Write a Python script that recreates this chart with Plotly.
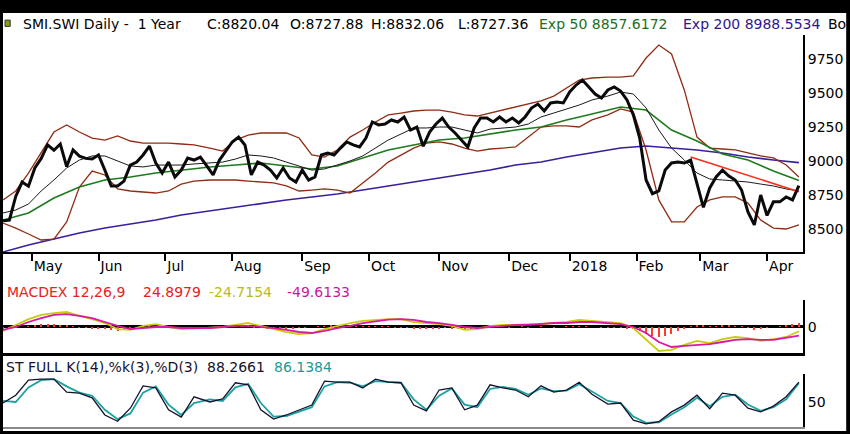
import numpy as np
import pandas as pd
import plotly.graph_objects as go

# SIX holidays inside the window (no trading)
holidays = ["2017-05-01", "2017-05-25", "2017-06-05", "2017-08-01", "2017-12-25",
            "2017-12-26", "2018-01-01", "2018-01-02", "2018-03-30", "2018-04-02"]
month_labels = ["May", "Jun", "Jul", "Aug", "Sep", "Oct", "Nov", "Dec", "2018", "Feb", "Mar", "Apr"]

# close, every 2nd session
close = [8560, 8565, 8740, 8846, 8815, 8950, 9020, 9120, 9080, 9126,
         8960, 9082, 9037, 9020, 9015, 9045, 8934, 8817, 8817, 8853,
         8970, 8993, 9045, 9111, 8986, 8912, 8993, 8883, 8934, 9023,
         9008, 9030, 8964, 8898, 9008, 9074, 9141, 9177, 9119, 8898,
         8993, 8971, 8934, 8876, 8949, 8876, 8846, 8934, 8861, 8883,
         9045, 9060, 9045, 9096, 9141, 9119, 9104, 9170, 9288, 9266,
         9273, 9303, 9288, 9325, 9229, 9251, 9110, 9214, 9273, 9317,
         9251, 9207, 9155, 9104, 9244, 9317, 9317, 9288, 9325, 9288,
         9317, 9281, 9325, 9391, 9420, 9370, 9428, 9435, 9428, 9509,
         9560, 9597, 9546, 9494, 9465, 9524, 9546, 9516, 9450, 9340,
         9170, 8861, 8760, 8780, 8934, 8986, 8993, 8986, 9008, 8824,
         8660, 8802, 8883, 8934, 8890, 8861, 8787, 8625, 8530, 8750,
         8600, 8700, 8700, 8736, 8714, 8820.04]

# bollinger / sma20, every 4th session
bb_upper = [8714, 8780, 8912, 9067, 9214, 9266, 9214, 9170, 9155, 9185,
            9148, 9133, 9133, 9133, 9126, 9119, 9096, 9074, 9155, 9192,
            9207, 9207, 9207, 9170, 9045, 9030, 9082, 9177, 9229, 9288,
            9340, 9354, 9369, 9376, 9376, 9361, 9340, 9332, 9354, 9376,
            9398, 9420, 9443, 9479, 9538, 9597, 9612, 9619, 9619, 9627,
            9759, 9855, 9789, 9524, 9177, 9096, 9089, 9082, 9060, 9038,
            9023, 8971, 8883]
bb_lower = [8544, 8507, 8463, 8419, 8426, 8552, 8809, 8927, 8898, 8795,
            8780, 8772, 8765, 8780, 8831, 8853, 8861, 8861, 8861, 8853,
            8846, 8839, 8817, 8780, 8787, 8795, 8787, 8765, 8839, 8912,
            8993, 9045, 9096, 9133, 9141, 9126, 9096, 9074, 9089, 9096,
            9104, 9177, 9251, 9259, 9259, 9251, 9303, 9340, 9384, 9361,
            9082, 8714, 8552, 8552, 8662, 8714, 8736, 8736, 8691, 8566,
            8507, 8500, 8530]
sma20 = [8618, 8640, 8684, 8780, 8861, 8949, 9008, 9038, 9038, 9001,
         8964, 8957, 8971, 8971, 8971, 8979, 8986, 8993, 9015, 9045,
         9038, 9023, 8993, 8964, 8934, 8942, 8971, 9001, 9038, 9096,
         9155, 9199, 9244, 9244, 9251, 9251, 9229, 9207, 9236, 9244,
         9251, 9273, 9325, 9354, 9384, 9413, 9450, 9479, 9509, 9494,
         9391, 9229, 9096, 9008, 8912, 8868, 8861, 8853, 8846, 8831,
         8817, 8795, 8780]

# exponential averages, every 8th session
exp50 = [8566, 8618, 8728, 8809, 8861, 8883, 8912, 8934, 8957, 8971, 8986, 8964, 8942, 8964, 9023, 9082,
         9119, 9155, 9170, 9199, 9229, 9251, 9303, 9347, 9398, 9376, 9229, 9148, 9052, 9008, 8927, 8857.6172]
exp200 = [8331, 8382, 8426, 8471, 8507, 8537, 8566, 8603, 8633, 8662, 8684, 8714, 8736, 8758, 8787, 8817,
          8846, 8876, 8905, 8934, 8971, 8993, 9030, 9060, 9096, 9111, 9096, 9082, 9060, 9030, 9008, 8988.5534]

levels = [9089, 8817, 8672, 8524]
trend_dates = ["2018-02-26", "2018-04-17"]
trend_vals = [9030, 8775]

macd = [-23, 12, 46, 70, 81, 87, 64, 46, 23, -12, -17, 6, 17, 0, -12, -9, -6, 0, 12, 23,
        6, -12, -29, -41, -35, -12, 6, 23, 35, 41, 46, 46, 29, 23, 17, 6, -17, -12, 6, 12,
        12, 17, 17, 23, 29, 41, 35, 29, 23, -6, -75, -139, -133, -104, -81, -93, -70, -58, -64, -81,
        -70, -58, -24.7154]
signal = [-17, 0, 29, 52, 70, 75, 64, 52, 29, 6, -12, -6, 0, 0, -6, -6, -6, 0, 6, 6,
          0, -6, -17, -29, -35, -23, -6, 6, 23, 35, 43, 46, 41, 29, 23, 12, 0, -6, 0, 6,
          12, 12, 17, 23, 23, 29, 29, 23, 17, 0, -35, -87, -116, -110, -104, -99, -87, -75, -70, -75,
          -75, -64, -49.6133]
hist = [-10, -8, -5, 0, 5, 10, 15, 20, 18, 12, 6, 2, -2, -5, -6, -8, -12, -18, -22, -20,
        -12, -4, 4, 6, 4, 0, -3, -5, -4, -3, -2, -2, -3, -2, 0, 3, 5, 6, 3, -2,
        -5, -6, -7, -8, -8, -7, -5, -3, 0, 3, 5, 6, 5, 4, 3, 2, 3, 4, 3, 2,
        1, -1, -3, -5, -8, -10, -12, -10, -7, -5, -8, -12, -15, -10, -4, 0, 2, 2, 0, -1,
        0, 1, -1, 0, 2, 0, -2, 0, 2, 4, 5, 3, 0, -2, -3, -2, -3, -6, -12, -25,
        -40, -52, -60, -55, -40, -22, -8, 5, 12, 8, 2, 5, 8, 6, 4, 2, -5, -15, -12, -5,
        0, 5, 12, 18, 24.8979]

stoch_k = [48, 63, 92, 94, 94, 69, 67, 58, 25, 13, 38, 81, 77, 35, 21, 60, 50, 56, 87, 83,
           35, 17, 25, 35, 44, 90, 88, 88, 77, 94, 88, 87, 44, 33, 73, 77, 35, 44, 83, 77,
           73, 60, 81, 69, 73, 88, 65, 46, 48, 15, 8, 12, 31, 44, 63, 37, 67, 63, 38, 31,
           42, 60, 88.2661]
stoch_d = [52, 50, 78, 92, 94, 80, 68, 62, 35, 17, 28, 68, 80, 45, 25, 48, 55, 52, 78, 85,
           48, 22, 23, 32, 40, 80, 88, 87, 80, 90, 89, 87, 55, 35, 62, 76, 45, 40, 75, 79,
           75, 64, 76, 71, 72, 84, 70, 52, 48, 22, 10, 11, 26, 40, 58, 42, 60, 64, 45, 33,
           40, 55, 86.1384]

days = pd.bdate_range("2017-04-18", "2018-04-17")
days = days[~days.isin(pd.to_datetime(holidays))]


def pick(n):
    return days[np.linspace(0, len(days) - 1, n).round().astype(int)]


firsts = pd.Series(days, index=days).groupby([days.year, days.month]).first().values[1:]

FONT = "DejaVu Sans"
fig = go.Figure()


def line(x, y, color, width, ax="1"):
    fig.add_trace(go.Scatter(x=x, y=y, mode="lines", line=dict(color=color, width=width),
                             xaxis="x" if ax == "1" else "x" + ax, yaxis="y" if ax == "1" else "y" + ax))


# main panel
line(pick(len(exp200)), exp200, "#3a1ea0", 1.6)
line(pick(len(bb_upper)), bb_upper, "#902c14", 1.3)
line(pick(len(bb_lower)), bb_lower, "#902c14", 1.3)
line(pick(len(exp50)), exp50, "#1d7a1d", 1.6)
line(pick(len(sma20)), sma20, "#1a1a1a", 1)
line(trend_dates, trend_vals, "#ff2a1a", 1.6)
line(pick(len(close)), close, "#0a0a0a", 3)

# macd panel
fig.add_trace(go.Bar(x=pick(len(hist)), y=hist, width=0.35 * 86400000,
                     marker=dict(color="#ff3b2a", line=dict(width=0)), xaxis="x2", yaxis="y2"))
line(pick(len(macd)), macd, "#c8cc10", 1.8, "2")
line(pick(len(signal)), signal, "#d81aa0", 1.8, "2")

# stochastic panel
line(pick(len(stoch_d)), stoch_d, "#1aa3a0", 1.8, "3")
line(pick(len(stoch_k)), stoch_k, "#15122e", 1.3, "3")

for i, lv in enumerate(levels):
    fig.add_shape(type="line", xref="x domain", yref="y", x0=0, x1=1, y0=lv, y1=lv, layer="below",
                  line=dict(color="#163a35" if i == 0 else "#1a1a1a", width=2.2 if i == 0 else 1.2))

xr = [days[0], days[-1] + pd.Timedelta(hours=31)]
rb = [dict(bounds=["sat", "mon"]), dict(values=holidays)]
common_y = dict(side="right", showgrid=False, showline=True, linecolor="black", linewidth=2,
                ticks="", tickfont=dict(family=FONT, size=14, color="black"), fixedrange=True)

fig.update_layout(
    width=850, height=434, showlegend=False, bargap=0,
    paper_bgcolor="black", plot_bgcolor="white",
    margin=dict(l=3, r=47, t=35, b=7),
    font=dict(family=FONT, size=14, color="black"),
    xaxis=dict(domain=[0, 1], anchor="y", range=xr, rangebreaks=rb, showgrid=False,
               showline=True, linecolor="black", linewidth=2, ticks="outside", ticklen=7,
               tickwidth=2, tickcolor="black", tickvals=firsts, ticktext=month_labels,
               ticklabelposition="outside right",
               tickfont=dict(family=FONT, size=14, color="black")),
    xaxis2=dict(domain=[0, 1], anchor="y2", matches="x", range=xr, rangebreaks=rb, showgrid=False,
                showline=True, linecolor="black", linewidth=3, showticklabels=False, ticks=""),
    xaxis3=dict(domain=[0, 1], anchor="y3", matches="x", range=xr, rangebreaks=rb, showgrid=False,
                showline=True, linecolor="#8a8a8a", linewidth=2, showticklabels=False, ticks=""),
    yaxis=dict(domain=[0.4464, 1], anchor="x", range=[8330.6, 9928.6],
               tickvals=[8500, 8750, 9000, 9250, 9500, 9750], zeroline=False, **common_y),
    yaxis2=dict(domain=[0.1888, 0.3240], anchor="x2", range=[-150.8, 156.6], tickvals=[0],
                zeroline=True, zerolinecolor="black", zerolinewidth=2.5, **common_y),
    yaxis3=dict(domain=[0, 0.1352], anchor="x3", range=[1.9, 103.8], tickvals=[50],
                zeroline=False, **common_y),
)

# white page inside the black frame
fig.add_shape(type="rect", xref="paper", yref="paper", x0=0, x1=1.054, y0=-0.0102, y1=1.0561,
              fillcolor="white", line=dict(width=0), layer="below")
fig.add_shape(type="rect", xref="paper", yref="paper", x0=0.0025, x1=0.009, y0=1.022, y1=1.038,
              fillcolor="#8c9a12", line=dict(color="#333", width=1))


def label(px, y, text, color):
    # px: left edge of the text in page pixels
    fig.add_annotation(xref="paper", yref="paper", x=(px - 3) / 800, y=y, xanchor="left",
                       yanchor="middle", text=text, showarrow=False,
                       font=dict(family=FONT, size=14, color=color))


label(21, 1.028, "SMI.SWI Daily -  1 Year", "black")
label(205, 1.028, "C:8820.04", "black")
label(288, 1.028, "O:8727.88", "black")
label(369, 1.028, "H:8832.06", "black")
label(456, 1.028, "L:8727.36", "black")
label(537, 1.028, "Exp 50 8857.6172", "#1b6e1b")
label(681, 1.028, "Exp 200 8988.5534", "#2e1690")
label(826, 1.028, "Bo", "black")
label(5, 0.3444, "MACDEX 12,26,9", "#e8211a")
label(141, 0.3444, "24.8979", "#e8211a")
label(207, 0.3444, "-24.7154", "#b8bc10")
label(285, 0.3444, "-49.6133", "#c8189a")
label(4, 0.1531, "ST FULL K(14),%k(3),%D(3)", "#15122e")
label(205, 0.1531, "88.2661", "#15122e")
label(272, 0.1531, "86.1384", "#1a9a98")

fig.write_html("out.html", config={"displayModeBar": False},
               post_script="document.body.style.margin='0';")
